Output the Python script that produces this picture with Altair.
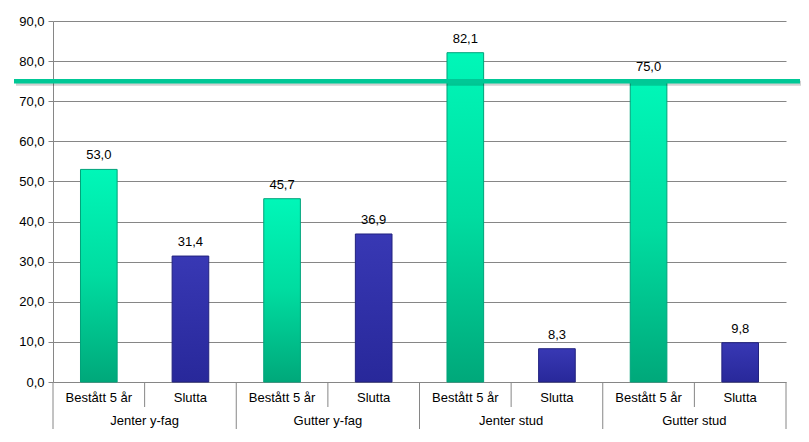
import altair as alt
import pandas as pd

groups = ["Jenter y-fag", "Gutter y-fag", "Jenter stud", "Gutter stud"]
series = ["Bestått 5 år", "Slutta"]
values = [53.0, 31.4, 45.7, 36.9, 82.1, 8.3, 75.0, 9.8]
target = 75.0
y_ticks = [0, 10, 20, 30, 40, 50, 60, 70, 80, 90]

rows = []
for gi, g in enumerate(groups):
    for si, s in enumerate(series):
        i = gi * 2 + si
        v = values[i]
        rows.append({"group": g, "series": s, "value": v, "base": 0.0,
                     "label": f"{v:.1f}".replace(".", ","),
                     "x0": i + 0.3, "x1": i + 0.7, "xc": i + 0.5})
df = pd.DataFrame(rows)

grp_df = pd.DataFrame({"group": groups, "xc": [gi * 2 + 1 for gi in range(len(groups))]})
div_group = pd.DataFrame({"pos": [0, 2, 4, 6, 8]})
div_sub = pd.DataFrame({"pos": [1, 3, 5, 7]})
target_df = pd.DataFrame({"value": [target], "shadow": [target - 0.55]})

FONT = "Liberation Sans"
FS = 13
xs = alt.Scale(domain=[0, 8], nice=False, zero=False)
ys = alt.Scale(domain=[0, 90], nice=False)

green = {"gradient": "linear", "x1": 0, "y1": 0, "x2": 0, "y2": 1,
         "stops": [{"offset": 0, "color": "#00F7B8"},
                   {"offset": 0.5, "color": "#00DCA0"},
                   {"offset": 1, "color": "#00A87A"}]}
blue = {"gradient": "linear", "x1": 0, "y1": 0, "x2": 0, "y2": 1,
        "stops": [{"offset": 0, "color": "#3838B4"},
                  {"offset": 1, "color": "#28289A"}]}

yaxis = alt.Axis(values=y_ticks, title=None, grid=True, gridColor="#868686",
                 gridWidth=1, domainColor="#868686", tickColor="#868686",
                 tickSize=5, labelPadding=4, labelFont=FONT, labelFontSize=FS,
                 labelColor="#000000",
                 labelExpr="replace(format(datum.value, '.1f'), '.', ',')")

base = alt.Chart(df)

bars_g = base.transform_filter(alt.datum.series == series[0]).mark_bar(
    fill=green, stroke="#00A27A", strokeWidth=1).encode(
    x=alt.X("x0:Q", scale=xs, axis=None), x2="x1:Q",
    y=alt.Y("value:Q", scale=ys, axis=yaxis), y2="base:Q")

bars_b = base.transform_filter(alt.datum.series == series[1]).mark_bar(
    fill=blue, stroke="#22227F", strokeWidth=1).encode(
    x=alt.X("x0:Q", scale=xs, axis=None), x2="x1:Q",
    y=alt.Y("value:Q", scale=ys), y2="base:Q")

labels = base.mark_text(font=FONT, fontSize=FS, color="#000000", dy=-7,
                        baseline="bottom").encode(
    x=alt.X("xc:Q", scale=xs), y=alt.Y("value:Q", scale=ys), text="label:N")

sub_text = base.mark_text(font=FONT, fontSize=FS, color="#000000",
                          baseline="middle").encode(
    x=alt.X("xc:Q", scale=xs), y=alt.value(377), text="series:N")

grp_text = alt.Chart(grp_df).mark_text(font=FONT, fontSize=FS, color="#000000",
                                       baseline="middle").encode(
    x=alt.X("xc:Q", scale=xs), y=alt.value(400), text="group:N")

rule_grp = alt.Chart(div_group).mark_rule(color="#868686", strokeWidth=1).encode(
    x=alt.X("pos:Q", scale=xs), y=alt.value(361), y2=alt.value(409))

rule_sub = alt.Chart(div_sub).mark_rule(color="#868686", strokeWidth=1).encode(
    x=alt.X("pos:Q", scale=xs), y=alt.value(361), y2=alt.value(386))

shadow = alt.Chart(target_df).mark_rule(color="#000000", opacity=0.18,
                                        strokeWidth=5).encode(
    y=alt.Y("shadow:Q", scale=ys), x=alt.value(-37), x2=alt.value(749))

target_line = alt.Chart(target_df).mark_rule(color="#00C896", strokeWidth=4.5).encode(
    y=alt.Y("value:Q", scale=ys), x=alt.value(-39), x2=alt.value(747))

chart = alt.layer(bars_g, bars_b, labels, sub_text, grp_text, rule_grp, rule_sub,
                  shadow, target_line).properties(
    width=733, height=361,
    padding={"left": 45, "top": 13, "right": 15, "bottom": 47},
    autosize=alt.AutoSizeParams(type="none"),
    background="#FFFFFF",
).configure_view(stroke=None)

chart.save("out.html", embed_options={"renderer": "svg", "actions": False})
